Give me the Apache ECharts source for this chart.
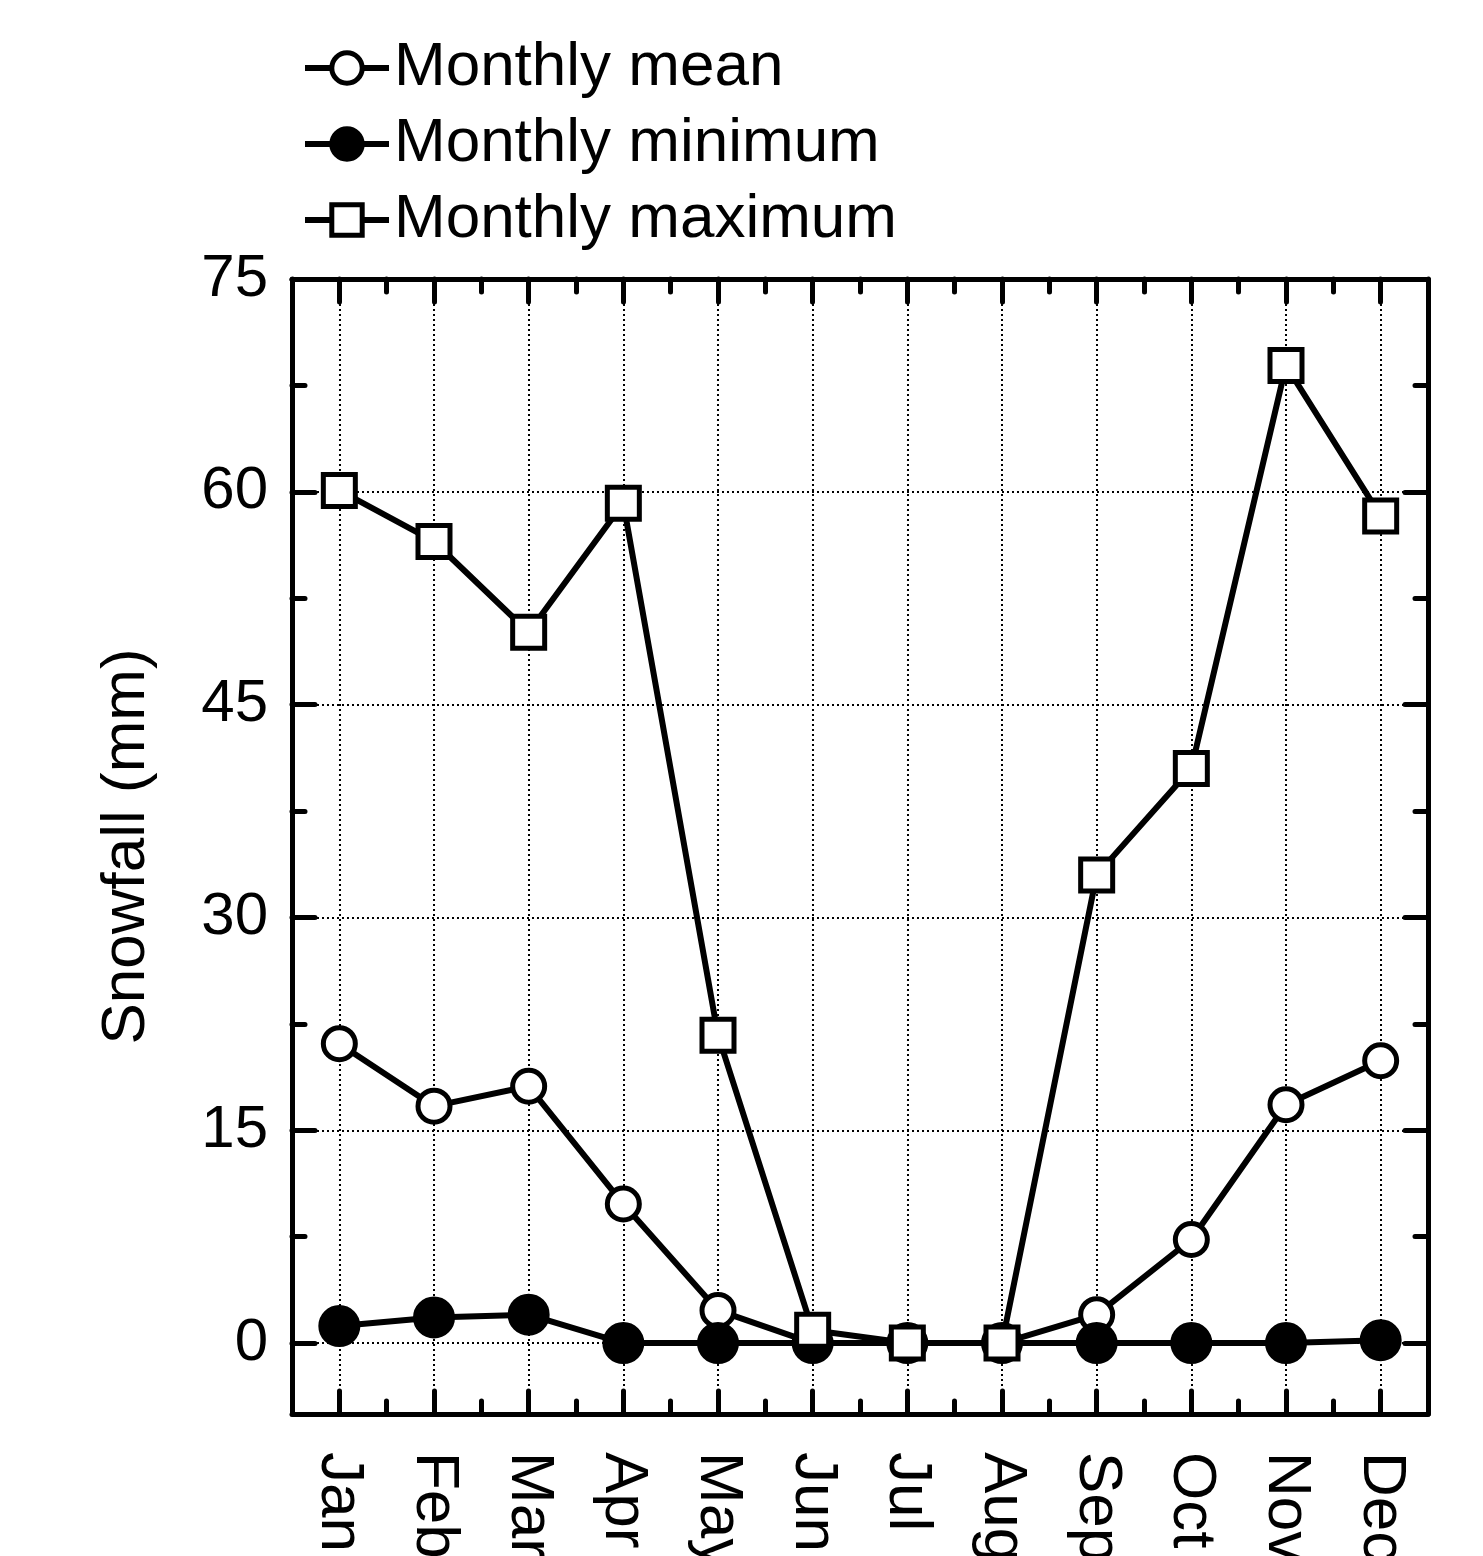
<!DOCTYPE html>
<html>
<head>
<meta charset="utf-8">
<title>Monthly snowfall</title>
<script src="https://cdn.jsdelivr.net/npm/echarts@6/dist/echarts.min.js"></script>
<style>
  html, body { margin: 0; padding: 0; background: #fff; }
  #chart { width: 1483px; height: 1556px; }
</style>
</head>
<body>
<div id="chart"></div>
<script>
// Month names shown along the x axis (positions 1..12)
var months = ['Jan', 'Feb', 'Mar', 'Apr', 'May', 'Jun', 'Jul', 'Aug', 'Sep', 'Oct', 'Nov', 'Dec'];

// Snowfall in mm per month
var meanVals = [21.1, 16.7, 18.1, 9.8, 2.3, 0.0, 0.0, 0.0, 2.0, 7.3, 16.8, 19.9];
var minVals  = [1.2, 1.8, 2.0, 0.0, 0.0, 0.0, 0.0, 0.0, 0.0, 0.0, 0.0, 0.2];
var maxVals  = [60.1, 56.5, 50.1, 59.2, 21.7, 0.9, 0.0, 0.0, 33.0, 40.5, 68.9, 58.3];

// Axis ticks
var monthTicks = [1, 2, 3, 4, 5, 6, 7, 8, 9, 10, 11, 12];
var halfMonthTicks = [1.5, 2.5, 3.5, 4.5, 5.5, 6.5, 7.5, 8.5, 9.5, 10.5, 11.5];
var yMajorTicks = [0, 15, 30, 45, 60, 75];
var yMinorTicks = [7.5, 22.5, 37.5, 52.5, 67.5];

var FONT = '"Liberation Sans", Arial, Helvetica, sans-serif';

function pairs(vals) {
  return vals.map(function (v, i) { return [i + 1, v]; });
}

var frameLine = { show: true, onZero: false, lineStyle: { color: '#000', width: 5 } };
var noLine = { show: false, onZero: false };
var gridDots = { show: true, lineStyle: { color: '#000', width: 2, type: [2, 3] } };

function xAxisDef(pos, major, withLabels) {
  return {
    type: 'value', position: pos, min: 0.5, max: 12.5,
    axisLine: major ? frameLine : noLine,
    axisTick: {
      show: true, inside: true, length: major ? 23 : 13,
      customValues: major ? monthTicks : halfMonthTicks,
      lineStyle: { color: '#000', width: 5, cap: 'round' }
    },
    axisLabel: withLabels ? {
      show: true, customValues: monthTicks, rotate: -90, margin: 38,
      fontSize: 62, color: '#000', fontFamily: FONT,
      formatter: function (v) { return months[Math.round(v) - 1]; }
    } : { show: false },
    splitLine: (major && withLabels) ? gridDots : { show: false }
  };
}

function yAxisDef(pos, major, withLabels) {
  var ax = {
    type: 'value', position: pos, min: -5, max: 75,
    axisLine: major ? frameLine : noLine,
    axisTick: {
      show: true, inside: true, length: major ? 23 : 13,
      customValues: major ? yMajorTicks : yMinorTicks,
      lineStyle: { color: '#000', width: 5, cap: 'round' }
    },
    axisLabel: withLabels ? {
      show: true, customValues: yMajorTicks, margin: 24,
      fontSize: 60, color: '#000', fontFamily: FONT
    } : { show: false },
    splitLine: (major && withLabels) ? gridDots : { show: false }
  };
  if (withLabels) {
    ax.name = 'Snowfall (mm)';
    ax.nameLocation = 'middle';
    ax.nameRotate = 90;
    ax.nameGap = 134;
    ax.nameTextStyle = { fontSize: 62, color: '#000', fontFamily: FONT };
  }
  return ax;
}

function lineSeries(name, vals, symbol, size, fill) {
  return {
    name: name, type: 'line', data: pairs(vals),
    xAxisIndex: 0, yAxisIndex: 0,
    symbol: symbol, symbolSize: size, showAllSymbol: true,
    clip: false, animation: false,
    lineStyle: { color: '#000', width: 6 },
    itemStyle: { color: fill, borderColor: '#000', borderWidth: 5 },
    emphasis: { disabled: true }
  };
}

var chart = echarts.init(document.getElementById('chart'), null, { renderer: 'canvas' });
chart.setOption({
  backgroundColor: '#fff',
  animation: false,
  textStyle: { fontFamily: FONT },
  grid: {
    left: 292, right: 55, top: 279, bottom: 142,
    containLabel: false, outerBoundsMode: 'none'
  },
  legend: {
    orient: 'vertical', left: 302, top: 35, padding: 0,
    itemWidth: 84, itemHeight: 38, itemGap: 10,
    lineStyle: { width: 6 },
    itemStyle: { borderWidth: 5 },
    textStyle: { fontSize: 62, lineHeight: 66, color: '#000', fontFamily: FONT },
    data: ['Monthly mean', 'Monthly minimum', 'Monthly maximum']
  },
  xAxis: [
    xAxisDef('bottom', true, true),
    xAxisDef('bottom', false, false),
    xAxisDef('top', true, false),
    xAxisDef('top', false, false)
  ],
  yAxis: [
    yAxisDef('left', true, true),
    yAxisDef('left', false, false),
    yAxisDef('right', true, false),
    yAxisDef('right', false, false)
  ],
  series: [
    lineSeries('Monthly mean', meanVals, 'circle', 32, '#fff'),
    lineSeries('Monthly minimum', minVals, 'circle', 37, '#000'),
    lineSeries('Monthly maximum', maxVals, 'rect', 32, '#fff')
  ]
});
</script>
</body>
</html>
